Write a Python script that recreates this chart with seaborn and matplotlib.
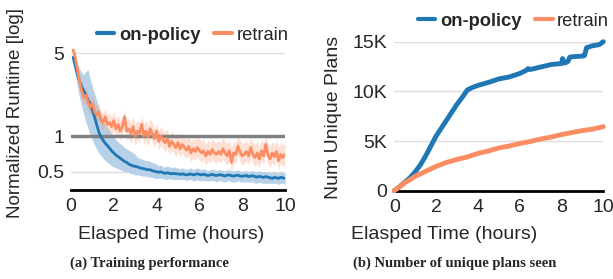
"""Two-panel figure: normalized runtime (log) and number of unique plans seen."""

import matplotlib

matplotlib.use("Agg")

import matplotlib.pyplot as plt
import pandas as pd
import seaborn as sns

# ---- panel (a): normalized runtime over elapsed time ----
hours = [
    0.1, 0.2, 0.3, 0.4, 0.5, 0.6, 0.7, 0.8, 0.9, 1.0,
    1.1, 1.2, 1.3, 1.4, 1.5, 1.6, 1.7, 1.8, 1.9, 2.0,
    2.1, 2.2, 2.3, 2.4, 2.5, 2.6, 2.7, 2.8, 2.9, 3.0,
    3.1, 3.2, 3.3, 3.4, 3.5, 3.6, 3.7, 3.8, 3.9, 4.0,
    4.1, 4.2, 4.3, 4.4, 4.5, 4.6, 4.7, 4.8, 4.9, 5.0,
    5.1, 5.2, 5.3, 5.4, 5.5, 5.6, 5.7, 5.8, 5.9, 6.0,
    6.1, 6.2, 6.3, 6.4, 6.5, 6.6, 6.7, 6.8, 6.9, 7.0,
    7.1, 7.2, 7.3, 7.4, 7.5, 7.6, 7.7, 7.8, 7.9, 8.0,
    8.1, 8.2, 8.3, 8.4, 8.5, 8.6, 8.7, 8.8, 8.9, 9.0,
    9.1, 9.2, 9.3, 9.4, 9.5, 9.6, 9.7, 9.8, 9.9, 10.0,
]

onpolicy_runtime = [
    4.6, 3.9, 3.3, 2.9, 2.6, 2.4, 2.2, 2.0, 1.85, 1.65,
    1.45, 1.25, 1.08, 0.98, 0.92, 0.87, 0.83, 0.79, 0.75, 0.72,
    0.69, 0.67, 0.65, 0.63, 0.61, 0.60, 0.58, 0.57, 0.56, 0.555,
    0.55, 0.54, 0.535, 0.53, 0.525, 0.52, 0.52, 0.51, 0.505, 0.50,
    0.495, 0.50, 0.49, 0.485, 0.49, 0.485, 0.48, 0.485, 0.48, 0.48,
    0.475, 0.48, 0.475, 0.47, 0.475, 0.48, 0.47, 0.475, 0.48, 0.475,
    0.47, 0.478, 0.47, 0.465, 0.47, 0.475, 0.468, 0.465, 0.47, 0.472,
    0.465, 0.46, 0.468, 0.47, 0.462, 0.46, 0.465, 0.468, 0.46, 0.458,
    0.462, 0.465, 0.455, 0.46, 0.462, 0.455, 0.45, 0.458, 0.452, 0.448,
    0.455, 0.45, 0.445, 0.44, 0.448, 0.445, 0.44, 0.448, 0.445, 0.44,
]
onpolicy_upper = [
    5.0, 4.6, 4.1, 3.7, 3.4, 3.3, 3.5, 3.6, 3.0, 2.6,
    2.3, 2.0, 1.7, 1.5, 1.35, 1.25, 1.18, 1.1, 1.04, 0.98,
    0.93, 0.89, 0.86, 0.83, 0.8, 0.78, 0.76, 0.74, 0.72, 0.7,
    0.66, 0.65, 0.64, 0.63, 0.62, 0.62, 0.61, 0.6, 0.59, 0.58,
    0.56, 0.57, 0.55, 0.55, 0.56, 0.55, 0.54, 0.55, 0.54, 0.54,
    0.53, 0.54, 0.53, 0.52, 0.53, 0.54, 0.52, 0.53, 0.54, 0.53,
    0.52, 0.53, 0.52, 0.51, 0.52, 0.53, 0.52, 0.51, 0.52, 0.52,
    0.51, 0.51, 0.52, 0.52, 0.51, 0.51, 0.51, 0.52, 0.51, 0.5,
    0.51, 0.51, 0.5, 0.51, 0.51, 0.5, 0.5, 0.51, 0.5, 0.5,
    0.5, 0.5, 0.49, 0.49, 0.5, 0.49, 0.49, 0.5, 0.49, 0.49,
]
onpolicy_lower = [
    4.2, 3.3, 2.6, 2.1, 1.75, 1.5, 1.3, 1.15, 1.02, 0.92,
    0.84, 0.78, 0.72, 0.68, 0.65, 0.62, 0.6, 0.58, 0.56, 0.55,
    0.54, 0.53, 0.52, 0.51, 0.5, 0.5, 0.49, 0.48, 0.48, 0.47,
    0.47, 0.47, 0.46, 0.46, 0.46, 0.45, 0.45, 0.45, 0.44, 0.44,
    0.44, 0.44, 0.44, 0.43, 0.43, 0.44, 0.43, 0.43, 0.43, 0.43,
    0.43, 0.43, 0.43, 0.42, 0.43, 0.43, 0.42, 0.42, 0.43, 0.42,
    0.42, 0.42, 0.42, 0.42, 0.42, 0.42, 0.42, 0.41, 0.42, 0.42,
    0.41, 0.41, 0.42, 0.42, 0.41, 0.41, 0.41, 0.42, 0.41, 0.41,
    0.41, 0.41, 0.41, 0.41, 0.41, 0.4, 0.4, 0.41, 0.4, 0.4,
    0.4, 0.4, 0.4, 0.4, 0.4, 0.4, 0.39, 0.4, 0.4, 0.39,
]

retrain_runtime = [
    5.3, 4.6, 3.6, 2.9, 2.4, 2.1, 2.2, 1.9, 1.75, 1.9,
    1.6, 1.5, 1.6, 1.35, 1.3, 1.45, 1.25, 1.3, 1.2, 1.35,
    1.15, 1.25, 1.1, 1.2, 1.45, 1.1, 1.15, 1.05, 1.2, 1.0,
    1.1, 1.05, 1.25, 1.0, 1.1, 0.98, 1.15, 1.05, 0.95, 1.1,
    0.9, 1.0, 0.92, 0.88, 0.95, 0.82, 0.9, 0.85, 0.8, 0.88,
    0.78, 0.85, 0.8, 0.76, 0.82, 0.72, 0.78, 0.74, 0.8, 0.76,
    0.72, 0.75, 0.68, 0.74, 0.7, 0.77, 0.72, 0.7, 0.74, 0.7,
    0.78, 0.72, 0.68, 0.75, 0.6, 0.72, 0.7, 0.82, 0.73, 0.68,
    0.7, 0.74, 0.68, 0.8, 0.7, 0.66, 0.72, 0.64, 0.75, 0.68,
    0.85, 0.7, 0.64, 0.72, 0.67, 0.74, 0.62, 0.7, 0.66, 0.7,
]
retrain_upper = [
    5.6, 5.0, 4.0, 3.3, 2.8, 2.5, 2.6, 2.3, 2.1, 2.2,
    1.9, 1.8, 1.9, 1.6, 1.55, 1.7, 1.5, 1.55, 1.45, 1.6,
    1.4, 1.5, 1.35, 1.45, 1.65, 1.35, 1.4, 1.3, 1.45, 1.25,
    1.35, 1.3, 1.45, 1.25, 1.35, 1.2, 1.4, 1.3, 1.15, 1.3,
    1.1, 1.2, 1.12, 1.08, 1.15, 1.0, 1.1, 1.05, 0.98, 1.08,
    0.95, 1.05, 0.98, 0.93, 1.0, 0.9, 0.96, 0.92, 0.98, 0.94,
    0.9, 0.93, 0.85, 0.92, 0.88, 0.95, 0.9, 0.88, 0.92, 0.88,
    0.96, 0.9, 0.86, 0.93, 0.8, 0.9, 0.88, 1.0, 0.92, 0.86,
    0.88, 0.92, 0.86, 0.98, 0.88, 0.84, 0.9, 0.82, 0.93, 0.86,
    1.02, 0.88, 0.82, 0.9, 0.85, 0.92, 0.8, 0.88, 0.84, 0.88,
]
retrain_lower = [
    5.0, 4.2, 3.2, 2.5, 2.05, 1.8, 1.85, 1.6, 1.5, 1.6,
    1.35, 1.28, 1.35, 1.15, 1.1, 1.22, 1.05, 1.1, 1.0, 1.12,
    0.96, 1.04, 0.92, 1.0, 1.2, 0.92, 0.96, 0.88, 1.0, 0.84,
    0.92, 0.88, 1.04, 0.84, 0.92, 0.82, 0.96, 0.88, 0.8, 0.92,
    0.76, 0.84, 0.78, 0.74, 0.8, 0.69, 0.76, 0.72, 0.67, 0.74,
    0.66, 0.72, 0.67, 0.64, 0.69, 0.6, 0.66, 0.62, 0.67, 0.64,
    0.6, 0.63, 0.57, 0.62, 0.59, 0.65, 0.6, 0.59, 0.62, 0.59,
    0.65, 0.6, 0.57, 0.63, 0.5, 0.6, 0.59, 0.69, 0.61, 0.57,
    0.59, 0.62, 0.57, 0.67, 0.59, 0.55, 0.6, 0.54, 0.63, 0.57,
    0.71, 0.59, 0.54, 0.6, 0.56, 0.62, 0.52, 0.59, 0.55, 0.59,
]

# ---- panel (b): unique plans (thousands) ----
onpolicy_plan_hours = [
    0.0, 0.25, 0.5, 0.75, 1.0, 1.25, 1.5, 1.75, 2.0, 2.25,
    2.5, 2.75, 3.0, 3.25, 3.5, 3.75, 4.0, 4.5, 5.0, 5.5,
    6.0, 6.3, 6.4, 6.5, 7.0, 7.5, 8.0, 8.05, 8.15, 8.3,
    8.4, 8.6, 9.0, 9.1, 9.2, 9.5, 9.8, 10.0,
]
onpolicy_plans_k = [
    0.0, 0.4, 0.85, 1.3, 1.9, 2.6, 3.5, 4.5, 5.5, 6.3,
    7.1, 7.9, 8.7, 9.4, 10.15, 10.4, 10.6, 10.9, 11.25, 11.45,
    11.8, 12.1, 12.3, 12.2, 12.45, 12.7, 12.8, 13.3, 12.85, 13.0,
    13.45, 13.5, 13.55, 13.6, 14.4, 14.6, 14.7, 15.0,
]
retrain_plan_hours = [
    0.0, 0.25, 0.5, 0.75, 1.0, 1.25, 1.5, 1.75, 2.0, 2.5,
    3.0, 3.5, 4.0, 4.5, 5.0, 5.5, 6.0, 6.5, 7.0, 7.5,
    8.0, 8.5, 9.0, 9.5, 10.0,
]
retrain_plans_k = [
    0.0, 0.4, 0.8, 1.1, 1.45, 1.7, 1.95, 2.2, 2.45, 2.85,
    3.15, 3.4, 3.75, 4.0, 4.3, 4.5, 4.75, 4.95, 5.2, 5.4,
    5.65, 5.85, 6.05, 6.2, 6.45,
]

BLUE = "#1f77b4"
ORANGE = "#fc8d62"
FONT = ["Liberation Sans", "DejaVu Sans"]

sns.set_theme(style="white")
plt.rcParams["font.family"] = FONT
plt.rcParams["font.size"] = 14

runtime_df = pd.concat(
    [
        pd.DataFrame({"hours": hours, "runtime": onpolicy_runtime, "method": "on-policy"}),
        pd.DataFrame({"hours": hours, "runtime": retrain_runtime, "method": "retrain"}),
    ],
    ignore_index=True,
)
plans_df = pd.concat(
    [
        pd.DataFrame({"hours": onpolicy_plan_hours, "plans": onpolicy_plans_k, "method": "on-policy"}),
        pd.DataFrame({"hours": retrain_plan_hours, "plans": retrain_plans_k, "method": "retrain"}),
    ],
    ignore_index=True,
)
plans_df["plans"] = plans_df["plans"] * 1000
palette = {"on-policy": BLUE, "retrain": ORANGE}

fig = plt.figure(figsize=(6.13, 2.79), dpi=100)
ax1 = fig.add_axes([71 / 613, 1 - 190 / 279, 214 / 613, 145 / 279])
ax2 = fig.add_axes([394.3 / 613, 1 - 190.7 / 279, 209 / 613, 149 / 279])

# (a) runtime
ax1.set_yscale("log")
ax1.fill_between(hours, onpolicy_lower, onpolicy_upper, color="#b7d2e8", lw=0, zorder=1)
ax1.fill_between(hours, retrain_lower, retrain_upper, color=ORANGE, alpha=0.28, lw=0, zorder=1.5)
ax1.axhline(1, color="#808080", lw=2.5, zorder=2)
sns.lineplot(
    data=runtime_df, x="hours", y="runtime", hue="method", palette=palette,
    lw=2, ax=ax1, legend=False, zorder=3,
)
ax1.set_ylim(0.351, 5.84)
ax1.set_yticks([0.5, 1, 5])
ax1.set_yticklabels(["0.5", "1", "5"])
ax1.minorticks_off()
ax1.set_ylabel("Normalized Runtime [log]", fontsize=13.5)

# (b) unique plans
sns.lineplot(
    data=plans_df, x="hours", y="plans", hue="method", palette=palette,
    lw=3.5, ax=ax2, legend=False, zorder=3, clip_on=False,
)
ax2.set_ylim(0, 15000)
ax2.set_yticks([0, 5000, 10000, 15000])
ax2.set_yticklabels(["0", "5K", "10K", "15K"])
ax2.set_ylabel("Num Unique Plans", fontsize=14)

for ax in (ax1, ax2):
    ax.set_xlim(0, 10)
    ax.set_xticks([0, 2, 4, 6, 8, 10])
    ax.grid(axis="y", color="#dddddd", lw=1)
    ax.grid(axis="x", visible=False)
    for side in ("top", "right", "left"):
        ax.spines[side].set_visible(False)
    ax.spines["bottom"].set_color("black")
    ax.spines["bottom"].set_linewidth(2)
    ax.tick_params(axis="y", length=0, labelsize=14, pad=5)
    ax.tick_params(axis="x", length=0, labelsize=14, pad=6)
    ax.set_xlabel("Elasped Time (hours)", fontsize=14)

ax1.xaxis.set_label_coords(0.467, -0.245)
ax2.xaxis.set_label_coords(0.238, -0.236)
ax1.yaxis.set_label_coords(-0.22, 0.53)
ax2.yaxis.set_label_coords(-0.25, 0.49)

handles = [
    plt.Line2D([], [], color=BLUE, lw=3),
    plt.Line2D([], [], color=ORANGE, lw=3),
]
for anchor in [(97 / 613, 1 - 35 / 279), (418 / 613, 1 - 21 / 279)]:
    leg = fig.legend(
        handles, ["on-policy", "retrain"], loc="center left",
        bbox_to_anchor=anchor, bbox_transform=fig.transFigure,
        ncol=2, frameon=False, fontsize=13.2, handlelength=0.95,
        handletextpad=0.25, columnspacing=0.75, borderpad=0, borderaxespad=0,
    )
    leg.get_texts()[0].set_fontweight("bold")

caption_font = ["Liberation Serif", "DejaVu Serif"]
fig.text(149 / 613, 1 - 263 / 279, "(a) Training performance", ha="center", va="center",
         fontsize=10.5, fontweight="bold", family=caption_font)
fig.text(454.5 / 613, 1 - 263 / 279, "(b) Number of unique plans seen", ha="center", va="center",
         fontsize=10.5, fontweight="bold", family=caption_font)

fig.savefig("out.png", dpi=100)
plt.close(fig)
